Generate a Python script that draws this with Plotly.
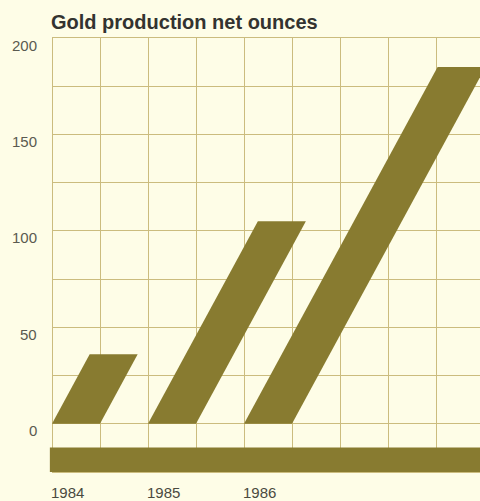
import plotly.graph_objects as go

# Data
years = ["1984", "1985", "1986"]
ounces = [36, 105, 185]          # net ounces (thousands)
bar_start = [0, 2, 4]            # grid column where each bar's base starts
y_ticks = [0, 50, 100, 150, 200]

BAR = "#887B30"
GRID = "#CBBC7E"
BG = "#FEFDE7"
SLANT = 0.0218   # horizontal shift (grid columns) per unit of height

fig = go.Figure()
for yr, v, s in zip(years, ounces, bar_start):
    xs = [s, s + 1, s + 1 + SLANT * v, s + SLANT * v, s]
    ys = [0, 0, v, v, 0]
    fig.add_trace(go.Scatter(x=xs, y=ys, fill="toself", mode="lines",
                             line=dict(width=0, color=BAR), fillcolor=BAR,
                             hoverinfo="skip", name=yr, showlegend=False))

# base band
fig.add_shape(type="rect", xref="paper", yref="y", x0=-0.005, x1=1,
              y0=-25, y1=-12.3, fillcolor=BAR, line=dict(width=0), layer="above")

# y tick labels (slightly below grid lines, as in original)
for t in y_ticks:
    fig.add_annotation(x=0, xref="paper", y=t, yref="y", text=str(t),
                       showarrow=False, xanchor="right", yanchor="middle",
                       xshift=-13, yshift=-7,
                       font=dict(family="Liberation Sans, Arial", size=15, color="#5a5a50"))

# x labels
for yr, s in zip(years, bar_start):
    fig.add_annotation(x=s, xref="x", y=0, yref="paper", text=yr,
                       showarrow=False, xanchor="left", yanchor="middle",
                       yshift=-20, xshift=-3,
                       font=dict(family="Liberation Sans, Arial", size=15, color="#4a4a40"))

fig.add_annotation(x=0, xref="paper", y=1, yref="paper", text="<b>Gold production net ounces</b>",
                   showarrow=False, xanchor="left", yanchor="bottom", yshift=3, xshift=-3,
                   font=dict(family="Liberation Sans, Arial", size=20, color="#333330"))

fig.update_xaxes(range=[0, 428 / 48], dtick=1, tick0=0, showgrid=True, gridcolor=GRID,
                 gridwidth=1.3, zeroline=True, zerolinecolor=GRID, zerolinewidth=1.3,
                 showticklabels=False, showline=True, linecolor=GRID, linewidth=1.3,
                 mirror=True, fixedrange=True)
fig.update_yaxes(range=[-25, 200], dtick=25, tick0=0, showgrid=True, gridcolor=GRID,
                 gridwidth=1.3, zeroline=True, zerolinecolor=GRID, zerolinewidth=1.3,
                 showticklabels=False, showline=False, fixedrange=True)

fig.update_layout(width=480, height=501, margin=dict(l=52, r=0, t=38, b=29),
                  paper_bgcolor=BG, plot_bgcolor=BG, showlegend=False)

fig.write_html("out.html")
